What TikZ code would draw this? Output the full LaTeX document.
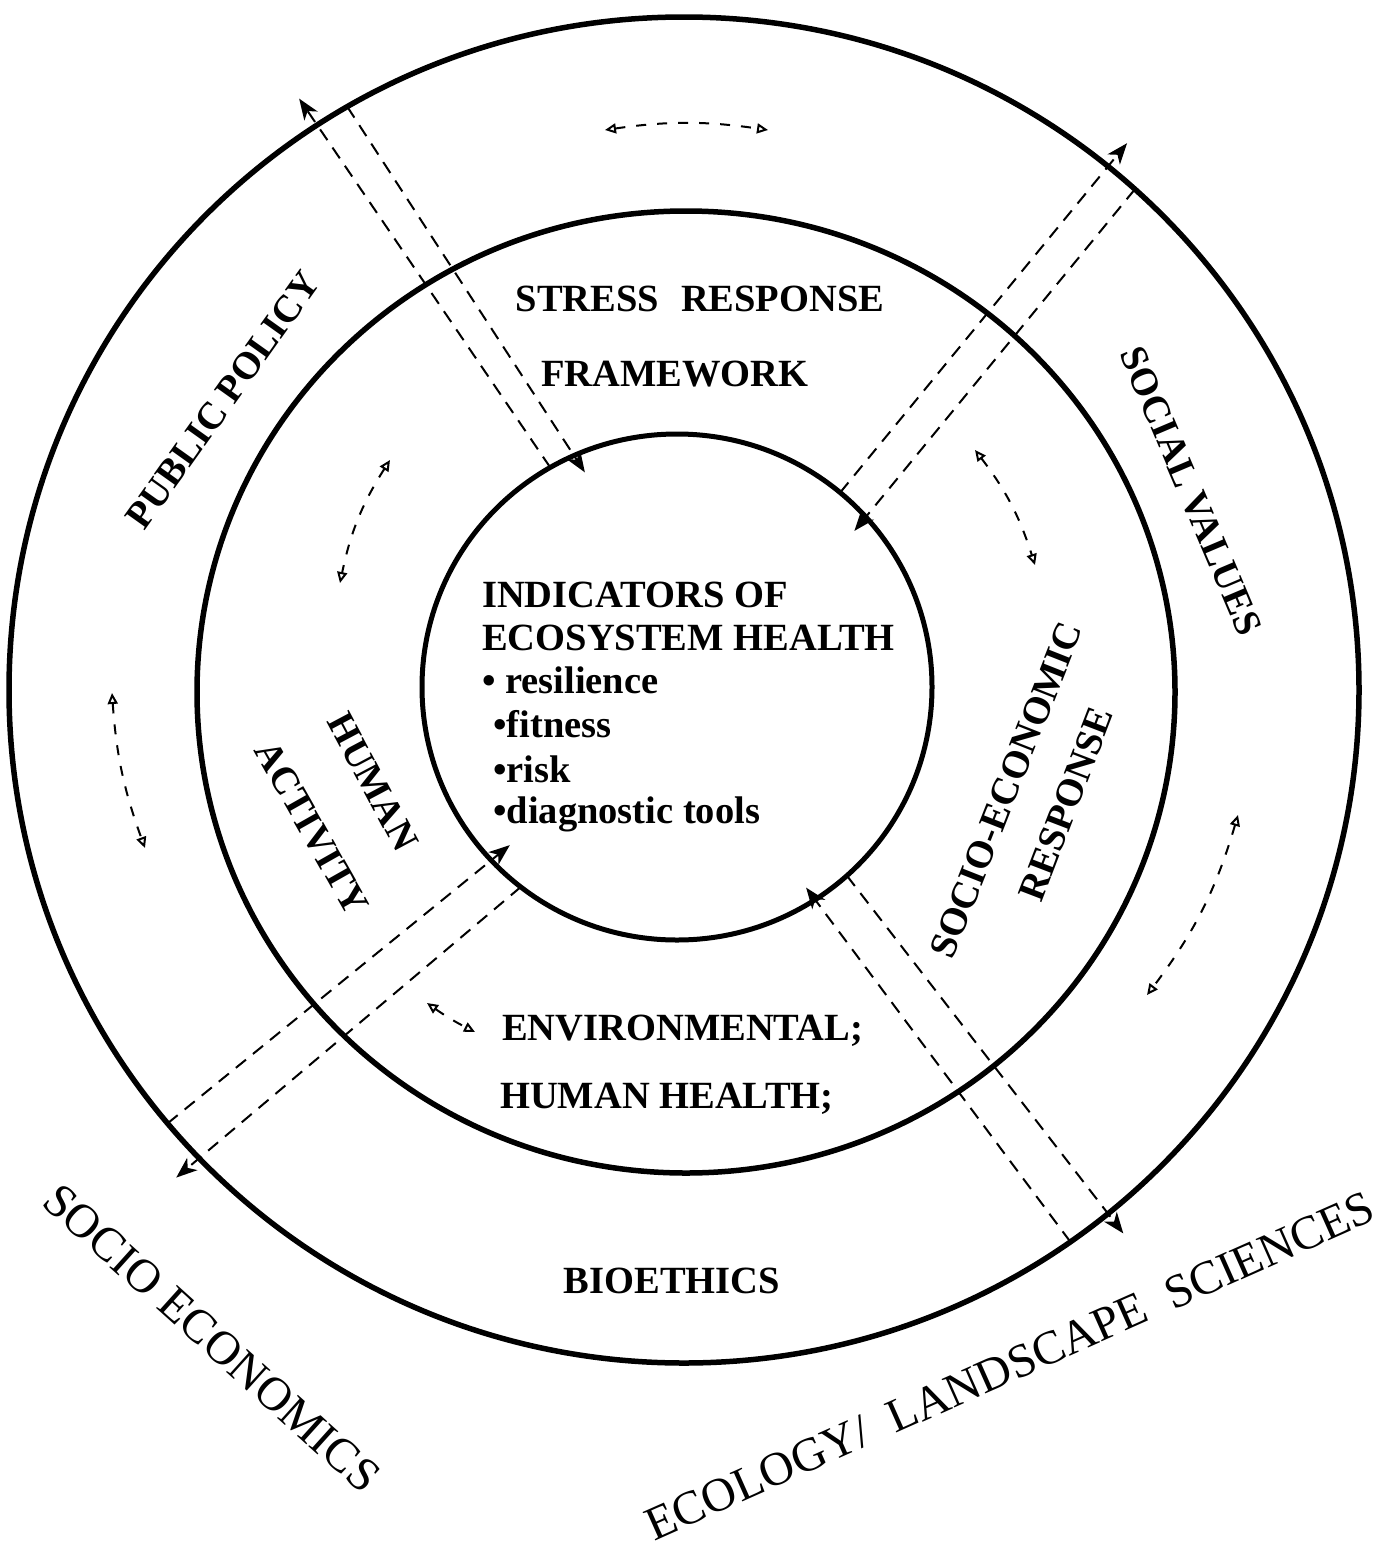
\documentclass[tikz,border=0pt]{standalone}
\usepackage{fontspec}
\setmainfont{Liberation Serif}
\usetikzlibrary{arrows.meta,shapes.geometric,calc}
\begin{document}
\begin{tikzpicture}[x=1pt,y=1pt,
  ring/.style={draw, ellipse, line width=5.5pt, inner sep=0pt, outer sep=0pt},
  flow/.style={dash pattern=on 13pt off 9pt, line width=2pt, -{Stealth[length=21pt,width=16pt,inset=6pt]}},
  curv/.style={line width=2pt, dash pattern=on 10pt off 11pt,
    {Triangle[open,length=11pt,width=10pt]}-{Triangle[open,length=11pt,width=10pt]}},
  lbl/.style={font=\bfseries\fontsize{38.5}{44}\selectfont, inner sep=0pt},
  outlbl/.style={font=\fontsize{47.5}{52}\selectfont, inner sep=0pt},
]
\useasboundingbox[fill=white] (0,0) rectangle (1393,-1547);

% rings
\node[ring, minimum width=1350pt, minimum height=1346pt] (outer) at (684,-690) {};
\node[ring, minimum width=978pt, minimum height=962pt] (middle) at (686,-692) {};
\node[ring, line width=5pt, minimum width=510pt, minimum height=506pt] (inner) at (677,-687) {};

% dashed flows between the inner and outer ring
\draw[flow, shorten >=-32pt] (inner.120.3) -- (outer.123.7);
\draw[flow, shorten >=-20pt] (outer.120.6) -- (inner.114.3);
\draw[flow, shorten >=-30pt] (inner.50.7) -- (outer.51.7);
\draw[flow, shorten >=-18pt] (outer.48.2) -- (inner.42.6);
\draw[flow, shorten >=-24pt] (outer.220.5) -- (inner.223.3);
\draw[flow, shorten >=-30pt] (inner.232.2) -- (outer.224.6);
\draw[flow, shorten >=-15pt] (outer.305.2) -- (inner.303.3);
\draw[flow, shorten >=-25pt] (inner.312.7) -- (outer.309.2);

% curved double arrows
\coordinate (ta) at (605,-130);  \coordinate (tb) at (768,-130);
\coordinate (la) at (112,-693);  \coordinate (lb) at (145,-848);
\coordinate (ra) at (1238,-815); \coordinate (rb) at (1147,-995);
\coordinate (ma) at (390,-460);  \coordinate (mb) at (340,-583);
\coordinate (na) at (975,-450);  \coordinate (nb) at (1035,-565);
\coordinate (ea) at (427,-1003); \coordinate (eb) at (475,-1032);
\draw[curv] (ta) to[bend left=8.25] (tb);
\draw[curv] (la) to[bend right=8] (lb);
\draw[curv] (ra) to[bend left=10.3] (rb);
\draw[curv] (ma) to[bend right=10.4] (mb);
\draw[curv] (na) to[bend left=9.9] (nb);
\draw[curv] (ea) to[bend right=4] (eb);

% labels
\node[lbl, anchor=base] (stress) at (700,-311) {STRESS\hspace{22pt}RESPONSE};
\node[lbl, anchor=base] (frame) at (675,-386) {FRAMEWORK};
\node[lbl, anchor=base west] (ind1) at (482,-607) {INDICATORS OF};
\node[lbl, anchor=base west] (ind2) at (482,-650) {ECOSYSTEM HEALTH};
\node[lbl, anchor=base west] (b1) at (482,-693) {\textbullet\ resilience};
\node[lbl, anchor=base west] (b2) at (493,-737) {\textbullet fitness};
\node[lbl, anchor=base west] (b3) at (493,-782) {\textbullet risk};
\node[lbl, anchor=base west] (b4) at (493,-823) {\textbullet diagnostic tools};
\node[lbl, anchor=base west] (env) at (502,-1040) {ENVIRONMENTAL;};
\node[lbl, anchor=base west] (hh) at (500,-1108) {HUMAN HEALTH;};
\node[lbl, anchor=base] (bio) at (672,-1293) {BIOETHICS};

\node[lbl, rotate=54.5] (pp) at (223,-400) {PUBLIC POLICY};
\node[lbl, rotate=-67] (sv) at (1191,-491) {SOCIAL VALUES};
\node[lbl, rotate=-62] (hum) at (373,-782) {HUMAN};
\node[lbl, rotate=-60.5] (act) at (312,-828) {ACTIVITY};
\node[lbl, rotate=68.5] (se) at (1006,-790) {SOCIO-ECONOMIC};
\node[lbl, rotate=69] (resp) at (1066,-804) {RESPONSE};

\node[outlbl, rotate=-42] (socec) at (212,-1338) {SOCIO ECONOMICS};
\node[outlbl, rotate=24] (eco) at (1010,-1366) {ECOLOGY/\hspace{24pt}LANDSCAPE\hspace{24pt}SCIENCES};
\end{tikzpicture}
\end{document}
